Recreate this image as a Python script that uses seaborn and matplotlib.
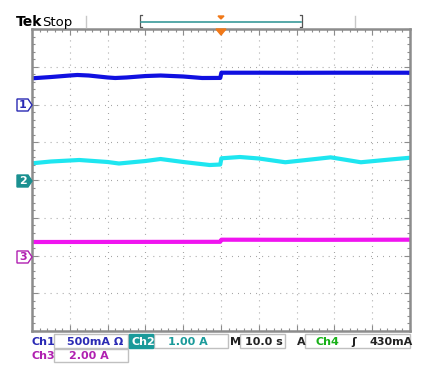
import numpy as np
import pandas as pd
import matplotlib
matplotlib.use('Agg')
import matplotlib.pyplot as plt
from matplotlib.transforms import Affine2D
from matplotlib.patches import Rectangle, Polygon
from matplotlib.lines import Line2D
import seaborn as sns

# Trace data (time in s, current in A)
ch1_t = [0, 5, 10, 12, 15, 20, 22, 25, 30, 34, 40, 45, 49.8, 50.1, 60, 70, 80, 90, 100]
ch1_i = [0.347, 0.364, 0.384, 0.391, 0.384, 0.358, 0.351, 0.358, 0.377, 0.384, 0.371, 0.351, 0.352,
         0.421, 0.421, 0.420, 0.421, 0.421, 0.421]

ch2_t = [0, 5, 12.5, 20, 23, 30, 34, 40, 47, 49.8, 50.1, 55, 60, 67, 75, 79, 87, 95, 100]
ch2_i = [0.442, 0.490, 0.530, 0.477, 0.437, 0.503, 0.556, 0.477, 0.397, 0.410, 0.575, 0.609,
         0.570, 0.470, 0.556, 0.600, 0.470, 0.545, 0.590]

ch3_t = [0, 25, 49.8, 50.1, 75, 100]
ch3_i = [0.715, 0.720, 0.725, 0.837, 0.830, 0.837]

# Vertical scale (A/div) and ground offset (div) per channel
scales = {'Ch1': 0.5, 'Ch2': 1.0, 'Ch3': 2.0}
offsets = {'Ch1': 2.0, 'Ch2': 0.0, 'Ch3': -2.0}
colors = {'Ch1': '#1010e0', 'Ch2': '#1ee6f0', 'Ch3': '#f014f0'}

W, H = 423, 367
fig = plt.figure(figsize=(W / 100, H / 100), dpi=100)
pix = Affine2D().scale(1 / W, -1 / H).translate(0, 1) + fig.transFigure
ax = fig.add_axes([32 / W, (H - 331) / H, 378 / W, 302 / H])

for name, t, i in [('Ch1', ch1_t, ch1_i), ('Ch2', ch2_t, ch2_i), ('Ch3', ch3_t, ch3_i)]:
    d = pd.DataFrame({'t': t, 'div': np.array(i) / scales[name] + offsets[name]})
    sns.lineplot(data=d, x='t', y='div', color=colors[name], lw=3.0, ax=ax)

ax.set_xlim(0, 100)
ax.set_ylim(-4, 4)
ax.set_xlabel('')
ax.set_ylabel('')

# graticule
grid = dict(color='#9a9a9a', lw=0.8, ls=(0, (0.8, 4.64)), zorder=0)
for x in range(10, 100, 10):
    ax.axvline(x, **grid)
for y in range(-3, 4):
    ax.axhline(y, **grid)
ax.set_xticks(range(0, 101, 10))
ax.set_xticks(np.arange(0, 100.1, 2), minor=True)
ax.set_yticks(range(-4, 5))
ax.set_yticks(np.arange(-4, 4.01, 0.2), minor=True)
ax.tick_params(which='both', direction='in', top=True, right=True, labelbottom=False,
               labelleft=False, color='#8c8c8c', width=0.8)
ax.tick_params(which='major', length=4)
ax.tick_params(which='minor', length=2.5)
for s in ax.spines.values():
    s.set_color('#8c8c8c')
    s.set_linewidth(1.8)

# header
fig.text(16, 26, 'Tek', transform=pix, fontsize=10, fontweight='bold', va='baseline')
fig.text(42, 26, 'Stop', transform=pix, fontsize=9.5, va='baseline')
for x in (86, 355):
    fig.add_artist(Line2D([x, x], [16, 27], transform=pix, color='#c8c8c8', lw=1))
fig.add_artist(Line2D([142, 140, 140, 142], [15, 15, 27, 27], transform=pix, color='#555555', lw=0.9))
fig.add_artist(Line2D([300, 302, 302, 300], [15, 15, 27, 27], transform=pix, color='#555555', lw=0.9))
fig.add_artist(Line2D([141, 301], [22, 22], transform=pix, color='#3a9a9a', lw=1.2))
fig.add_artist(Polygon([[218, 16], [224, 16], [221, 19]], transform=pix, color='#f07818'))
fig.add_artist(Polygon([[216, 29], [226, 29], [221, 35]], transform=pix, color='#f07818', zorder=5))

# channel ground markers
def marker(y, label, col, filled):
    pts = [[17, y - 6], [28, y - 6], [32, y], [28, y + 6], [17, y + 6]]
    fig.add_artist(Polygon(pts, transform=pix, closed=True, lw=1,
                           edgecolor=col, facecolor=col if filled else 'white'))
    fig.text(23, y + 0.5, label, transform=pix, ha='center', va='center', fontsize=8,
             fontweight='bold', color='white' if filled else col)

marker(105, '1', '#2a2ab4', False)
marker(181, '2', '#1a9090', True)
marker(257, '3', '#b020b0', False)

# status bar
box = dict(transform=pix, fill=False, edgecolor='#c0c0c0', lw=1)
fig.add_artist(Rectangle((54, 334), 74, 14, **box))
fig.add_artist(Rectangle((154, 334), 74, 14, **box))
fig.add_artist(Rectangle((240, 334), 45, 14, **box))
fig.add_artist(Rectangle((305, 334), 105, 14, **box))
fig.add_artist(Rectangle((54, 349), 74, 13, **box))
fig.add_artist(Rectangle((129, 334), 24, 14, transform=pix, color='#1a9a9a'))

txt = dict(transform=pix, fontsize=8, va='baseline', fontweight='bold')
fig.text(31, 345, 'Ch1', color='#2a2ab4', **txt)
fig.text(67, 345, '500mA Ω', color='#2a2ab4', **txt)
fig.text(131, 345, 'Ch2', color='white', **txt)
fig.text(168, 345, '1.00 A', color='#1a9a9a', **txt)
fig.text(230, 345, 'M', color='#222222', **txt)
fig.text(245, 345, '10.0 s', color='#222222', **txt)
fig.text(297, 345, 'A', color='#222222', **txt)
fig.text(316, 345, 'Ch4', color='#18b018', **txt)
fig.text(351, 345, 'ʃ', color='#222222', **txt)
fig.text(369, 345, '430mA', color='#222222', **txt)
fig.text(31, 359, 'Ch3', color='#b020b0', **txt)
fig.text(69, 359, '2.00 A', color='#b020b0', **txt)

fig.savefig('out.png', dpi=100)
